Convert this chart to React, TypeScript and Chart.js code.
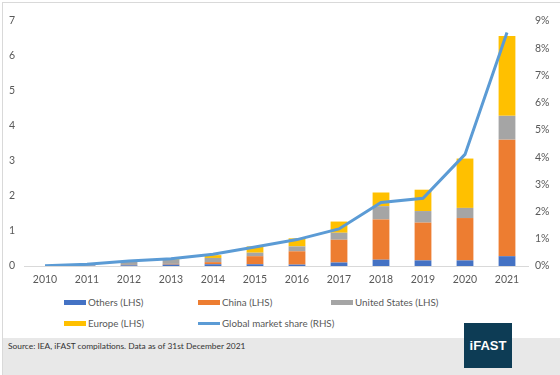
import React, { useEffect, useRef } from "react";
import { Chart, registerables } from "chart.js";

Chart.register(...registerables);

const years = ["2010", "2011", "2012", "2013", "2014", "2015", "2016", "2017", "2018", "2019", "2020", "2021"];
const others = [0, 0.01, 0.02, 0.04, 0.05, 0.05, 0.04, 0.1, 0.18, 0.16, 0.16, 0.28];
const china = [0, 0.005, 0.01, 0.02, 0.06, 0.23, 0.38, 0.65, 1.15, 1.08, 1.21, 3.33];
const unitedStates = [0, 0.02, 0.1, 0.12, 0.12, 0.1, 0.14, 0.2, 0.38, 0.33, 0.29, 0.68];
const europe = [0, 0.01, 0.01, 0.03, 0.08, 0.18, 0.23, 0.32, 0.39, 0.61, 1.41, 2.28];
const marketShare = [0.01, 0.06, 0.18, 0.27, 0.43, 0.7, 0.97, 1.36, 2.33, 2.49, 4.1, 8.58];

const leftMax = 7;
const rightMax = 9;

const seriesNames = ["Others (LHS)", "China (LHS)", "United States (LHS)", "Europe (LHS)", "Global market share (RHS)"];
const seriesColors = ["#4472c4", "#ed7d31", "#a5a5a5", "#ffc000", "#5b9bd5"];

const sourceText = "Source: IEA, iFAST compilations. Data as of 31st December 2021";
const brandText = "iFAST";

const FONT = "Lato, 'Open Sans', sans-serif";

export default function App() {
  const canvasRef = useRef<HTMLCanvasElement | null>(null);

  useEffect(() => {
    document.body.style.margin = "0";
    const ctx = canvasRef.current;
    if (!ctx) return;
    const barSets = [others, china, unitedStates, europe];
    const chart = new Chart(ctx, {
      type: "bar",
      data: {
        labels: years,
        datasets: [
          ...barSets.map((d, i) => ({
            type: "bar" as const,
            label: seriesNames[i],
            data: d,
            backgroundColor: seriesColors[i],
            borderWidth: 0,
            yAxisID: "y",
            categoryPercentage: 1,
            barPercentage: 0.4,
            order: 1,
          })),
          {
            type: "line" as const,
            label: seriesNames[4],
            data: marketShare,
            borderColor: seriesColors[4],
            backgroundColor: seriesColors[4],
            borderWidth: 3,
            pointRadius: 0,
            tension: 0,
            yAxisID: "y1",
            order: 0,
          },
        ],
      },
      options: {
        animation: false,
        responsive: false,
        maintainAspectRatio: false,
        layout: { padding: { top: 21, left: 0, right: 0, bottom: 0 } },
        plugins: { legend: { display: false }, tooltip: { enabled: false } },
        scales: {
          x: {
            stacked: true,
            grid: { display: false, drawTicks: false },
            border: { display: true, color: "#d9d9d9", width: 1 },
            ticks: { color: "#595959", font: { family: FONT, size: 10.5 }, padding: 7, maxRotation: 0 },
            afterFit: (s: any) => { s.height = 26; },
          },
          y: {
            stacked: true,
            position: "left",
            min: 0,
            max: leftMax,
            grid: { display: false, drawTicks: false },
            border: { display: false },
            ticks: { stepSize: 1, color: "#595959", font: { family: FONT, size: 10.5 }, padding: 9 },
            afterFit: (s: any) => { s.width = 24; },
          },
          y1: {
            position: "right",
            min: 0,
            max: rightMax,
            grid: { display: false, drawTicks: false },
            border: { display: false },
            ticks: {
              stepSize: 1,
              color: "#595959",
              font: { family: FONT, size: 10.5 },
              padding: 7,
              callback: (v: any) => `${v}%`,
            },
            afterFit: (s: any) => { s.width = 32; },
          },
        },
      },
    });
    return () => chart.destroy();
  }, []);

  const legendPos = [
    { x: 64, y: 302 },
    { x: 198, y: 302 },
    { x: 331, y: 302 },
    { x: 64, y: 323 },
    { x: 198, y: 323 },
  ];

  return (
    <div style={{ position: "relative", width: 560, height: 375, background: "#fff", overflow: "hidden", fontFamily: FONT }}>
      <div style={{ position: "absolute", left: 2, top: 2, width: 570, height: 380, borderTop: "1px solid #d9d9d9", borderLeft: "1px solid #d9d9d9" }} />
      <canvas ref={canvasRef} width={560} height={292} style={{ position: "absolute", left: 0, top: 0, width: 560, height: 292 }} />
      {seriesNames.map((name, i) => (
        <div key={name} style={{ position: "absolute", left: legendPos[i].x, top: legendPos[i].y - 8, height: 16, display: "flex", alignItems: "center", whiteSpace: "nowrap" }}>
          <div style={{ width: 22, height: i === 4 ? 3 : 5, background: seriesColors[i], marginRight: 2 }} />
          <span style={{ fontSize: 9.8, color: "#595959" }}>{name}</span>
        </div>
      ))}
      <div style={{ position: "absolute", left: 3, top: 338, width: 557, height: 37, background: "#e8e8e8" }} />
      <div style={{ position: "absolute", left: 8, top: 341, fontSize: 8.4, color: "#333", whiteSpace: "nowrap" }}>{sourceText}</div>
      <div style={{ position: "absolute", left: 464, top: 323, width: 48, height: 45, background: "#0d3c55", color: "#fff", fontWeight: 700, fontSize: 13, display: "flex", alignItems: "center", justifyContent: "center", fontFamily: "'Liberation Sans', Arial, sans-serif" }}>{brandText}</div>
    </div>
  );
}
